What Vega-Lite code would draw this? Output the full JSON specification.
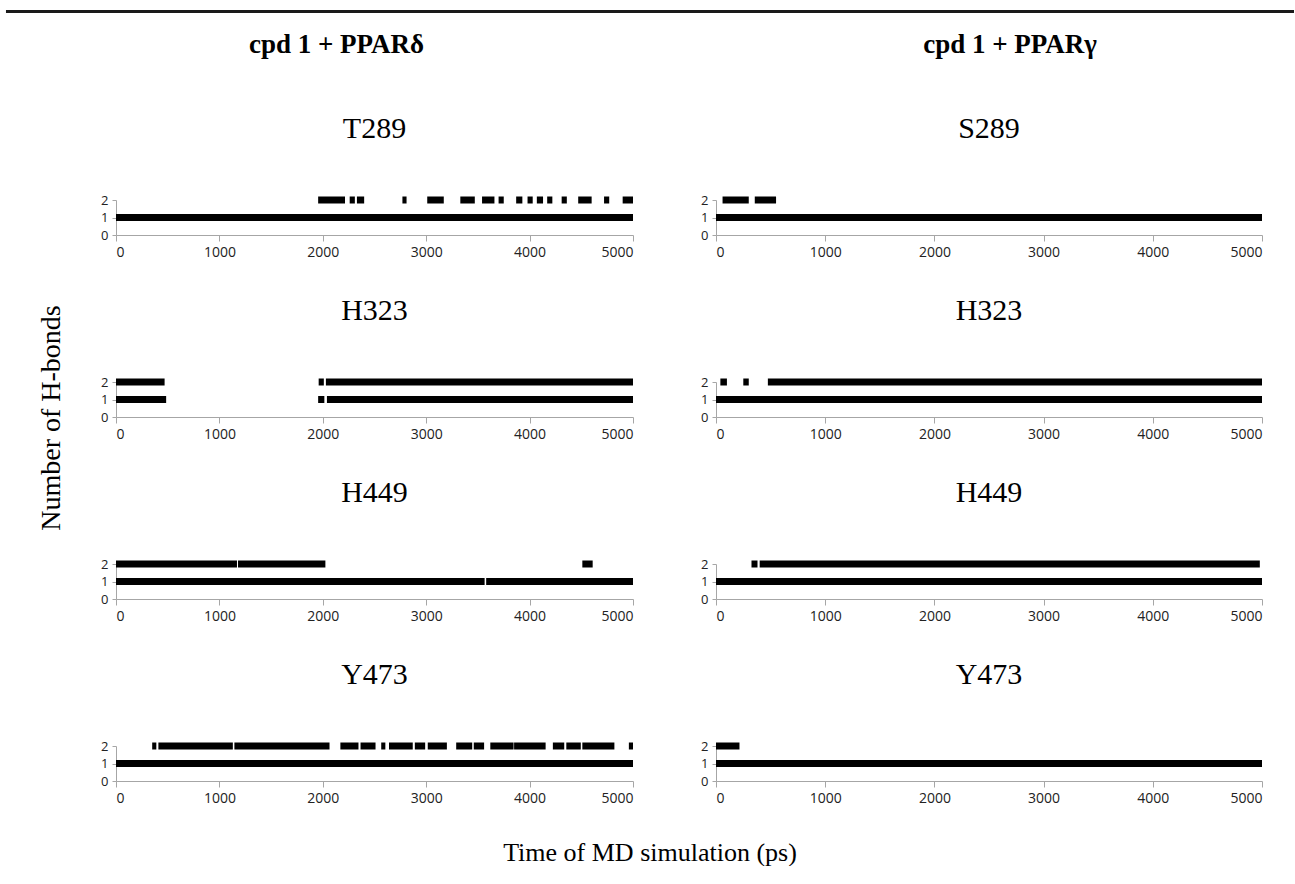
{
  "$schema": "https://vega.github.io/schema/vega-lite/v6.json",
  "padding": {"left": 5, "top": 10, "right": 0, "bottom": 0},
  "background": "white",
  "config": {
    "view": {"stroke": null},
    "title": {"font": "Liberation Serif", "fontSize": 30, "fontWeight": "normal", "color": "black", "anchor": "middle"},
    "axis": {"domainColor": "#a6a6a6", "tickColor": "#a6a6a6", "labelFont": "Open Sans", "labelFontSize": 14, "labelColor": "#222222", "grid": false, "title": null, "format": "d"}
  },
  "datasets": {
    "hb": [
      {"p": "dT289", "h": 1, "s": 0, "e": 5000},
      {"p": "dT289", "h": 2, "s": 1955, "e": 2215},
      {"p": "dT289", "h": 2, "s": 2260, "e": 2310},
      {"p": "dT289", "h": 2, "s": 2330, "e": 2400},
      {"p": "dT289", "h": 2, "s": 2770, "e": 2810},
      {"p": "dT289", "h": 2, "s": 3010, "e": 3170},
      {"p": "dT289", "h": 2, "s": 3330, "e": 3470},
      {"p": "dT289", "h": 2, "s": 3540, "e": 3660},
      {"p": "dT289", "h": 2, "s": 3700, "e": 3750},
      {"p": "dT289", "h": 2, "s": 3870, "e": 3930},
      {"p": "dT289", "h": 2, "s": 3980, "e": 4030},
      {"p": "dT289", "h": 2, "s": 4070, "e": 4130},
      {"p": "dT289", "h": 2, "s": 4170, "e": 4220},
      {"p": "dT289", "h": 2, "s": 4310, "e": 4360},
      {"p": "dT289", "h": 2, "s": 4470, "e": 4600},
      {"p": "dT289", "h": 2, "s": 4720, "e": 4770},
      {"p": "dT289", "h": 2, "s": 4900, "e": 5000},
      {"p": "gS289", "h": 1, "s": 0, "e": 5000},
      {"p": "gS289", "h": 2, "s": 60, "e": 300},
      {"p": "gS289", "h": 2, "s": 355, "e": 550},
      {"p": "dH323", "h": 1, "s": 0, "e": 485},
      {"p": "dH323", "h": 1, "s": 1955, "e": 2015},
      {"p": "dH323", "h": 1, "s": 2040, "e": 5000},
      {"p": "dH323", "h": 2, "s": 0, "e": 470},
      {"p": "dH323", "h": 2, "s": 1960, "e": 2010},
      {"p": "dH323", "h": 2, "s": 2030, "e": 5000},
      {"p": "gH323", "h": 1, "s": 0, "e": 5000},
      {"p": "gH323", "h": 2, "s": 40, "e": 100},
      {"p": "gH323", "h": 2, "s": 250, "e": 300},
      {"p": "gH323", "h": 2, "s": 475, "e": 5000},
      {"p": "dH449", "h": 1, "s": 0, "e": 3565},
      {"p": "dH449", "h": 1, "s": 3580, "e": 5000},
      {"p": "dH449", "h": 2, "s": 0, "e": 1170},
      {"p": "dH449", "h": 2, "s": 1180, "e": 2025},
      {"p": "dH449", "h": 2, "s": 4510, "e": 4610},
      {"p": "gH449", "h": 1, "s": 0, "e": 5000},
      {"p": "gH449", "h": 2, "s": 325, "e": 380},
      {"p": "gH449", "h": 2, "s": 400, "e": 4980},
      {"p": "dY473", "h": 1, "s": 0, "e": 5000},
      {"p": "dY473", "h": 2, "s": 350, "e": 390},
      {"p": "dY473", "h": 2, "s": 410, "e": 1130},
      {"p": "dY473", "h": 2, "s": 1145, "e": 2065},
      {"p": "dY473", "h": 2, "s": 2170, "e": 2345},
      {"p": "dY473", "h": 2, "s": 2365, "e": 2510},
      {"p": "dY473", "h": 2, "s": 2565, "e": 2605},
      {"p": "dY473", "h": 2, "s": 2640, "e": 2870},
      {"p": "dY473", "h": 2, "s": 2890, "e": 2990},
      {"p": "dY473", "h": 2, "s": 3015, "e": 3200},
      {"p": "dY473", "h": 2, "s": 3290, "e": 3445},
      {"p": "dY473", "h": 2, "s": 3460, "e": 3560},
      {"p": "dY473", "h": 2, "s": 3620, "e": 3845},
      {"p": "dY473", "h": 2, "s": 3850, "e": 4155},
      {"p": "dY473", "h": 2, "s": 4225, "e": 4335},
      {"p": "dY473", "h": 2, "s": 4355, "e": 4495},
      {"p": "dY473", "h": 2, "s": 4510, "e": 4820},
      {"p": "dY473", "h": 2, "s": 4960, "e": 5000},
      {"p": "gY473", "h": 1, "s": 0, "e": 5000},
      {"p": "gY473", "h": 2, "s": 0, "e": 215}
    ]
  },
  "title": {"text": "Time of MD simulation (ps)", "orient": "bottom", "fontSize": 26, "offset": 35},
  "spacing": 18,
  "vconcat": [
    {
      "width": 1178, "height": 3,
      "data": {"values": [{"a": -0.0934, "b": 1}]},
      "mark": {"type": "rect", "color": "#1a1a1a", "clip": false},
      "encoding": {
        "x": {"field": "a", "type": "quantitative", "scale": {"domain": [0, 1], "clamp": false, "zero": false}, "axis": null},
        "x2": {"field": "b"}
      }
    },
    {
      "title": {"text": ["", "Number of H-bonds\u00a0\u00a0\u00a0"], "orient": "left", "fontSize": 28, "lineHeight": 30, "offset": 35},
      "spacing": 63,
      "hconcat": [
        {
          "title": {"text": "cpd 1 + PPARδ", "fontWeight": "bold", "fontSize": 27, "dx": -32, "offset": 55},
          "spacing": 37,
          "vconcat": [
            {"width": 517, "height": 35, "data": {"name": "hb"}, "transform": [{"filter": "datum.p === 'dT289'"}],
             "title": {"text": "T289", "offset": 50},
             "mark": {"type": "rule", "strokeWidth": 7, "strokeCap": "butt", "color": "black"},
             "encoding": {
               "x": {"field": "s", "type": "quantitative", "scale": {"domain": [0, 5000], "nice": false}, "axis": {"values": [0, 1000, 2000, 3000, 4000, 5000], "tickSize": 6, "labelPadding": 4}},
               "x2": {"field": "e"},
               "y": {"field": "h", "type": "quantitative", "scale": {"domain": [0, 2]}, "axis": {"values": [0, 1, 2], "tickSize": 4, "labelPadding": 4, "labelFontSize": 13}}
             }},
            {"width": 517, "height": 35, "data": {"name": "hb"}, "transform": [{"filter": "datum.p === 'dH323'"}],
             "title": {"text": "H323", "offset": 50},
             "mark": {"type": "rule", "strokeWidth": 7, "strokeCap": "butt", "color": "black"},
             "encoding": {
               "x": {"field": "s", "type": "quantitative", "scale": {"domain": [0, 5000], "nice": false}, "axis": {"values": [0, 1000, 2000, 3000, 4000, 5000], "tickSize": 6, "labelPadding": 4}},
               "x2": {"field": "e"},
               "y": {"field": "h", "type": "quantitative", "scale": {"domain": [0, 2]}, "axis": {"values": [0, 1, 2], "tickSize": 4, "labelPadding": 4, "labelFontSize": 13}}
             }},
            {"width": 517, "height": 35, "data": {"name": "hb"}, "transform": [{"filter": "datum.p === 'dH449'"}],
             "title": {"text": "H449", "offset": 50},
             "mark": {"type": "rule", "strokeWidth": 7, "strokeCap": "butt", "color": "black"},
             "encoding": {
               "x": {"field": "s", "type": "quantitative", "scale": {"domain": [0, 5000], "nice": false}, "axis": {"values": [0, 1000, 2000, 3000, 4000, 5000], "tickSize": 6, "labelPadding": 4}},
               "x2": {"field": "e"},
               "y": {"field": "h", "type": "quantitative", "scale": {"domain": [0, 2]}, "axis": {"values": [0, 1, 2], "tickSize": 4, "labelPadding": 4, "labelFontSize": 13}}
             }},
            {"width": 517, "height": 35, "data": {"name": "hb"}, "transform": [{"filter": "datum.p === 'dY473'"}],
             "title": {"text": "Y473", "offset": 50},
             "mark": {"type": "rule", "strokeWidth": 7, "strokeCap": "butt", "color": "black"},
             "encoding": {
               "x": {"field": "s", "type": "quantitative", "scale": {"domain": [0, 5000], "nice": false}, "axis": {"values": [0, 1000, 2000, 3000, 4000, 5000], "tickSize": 6, "labelPadding": 4}},
               "x2": {"field": "e"},
               "y": {"field": "h", "type": "quantitative", "scale": {"domain": [0, 2]}, "axis": {"values": [0, 1, 2], "tickSize": 4, "labelPadding": 4, "labelFontSize": 13}}
             }}
          ]
        },
        {
          "title": {"text": "cpd 1 + PPARγ", "fontWeight": "bold", "fontSize": 27, "dx": 27, "offset": 55},
          "spacing": 37,
          "vconcat": [
            {"width": 546, "height": 35, "data": {"name": "hb"}, "transform": [{"filter": "datum.p === 'gS289'"}],
             "title": {"text": "S289", "offset": 50},
             "mark": {"type": "rule", "strokeWidth": 7, "strokeCap": "butt", "color": "black"},
             "encoding": {
               "x": {"field": "s", "type": "quantitative", "scale": {"domain": [0, 5000], "nice": false}, "axis": {"values": [0, 1000, 2000, 3000, 4000, 5000], "tickSize": 6, "labelPadding": 4}},
               "x2": {"field": "e"},
               "y": {"field": "h", "type": "quantitative", "scale": {"domain": [0, 2]}, "axis": {"values": [0, 1, 2], "tickSize": 4, "labelPadding": 4, "labelFontSize": 13}}
             }},
            {"width": 546, "height": 35, "data": {"name": "hb"}, "transform": [{"filter": "datum.p === 'gH323'"}],
             "title": {"text": "H323", "offset": 50},
             "mark": {"type": "rule", "strokeWidth": 7, "strokeCap": "butt", "color": "black"},
             "encoding": {
               "x": {"field": "s", "type": "quantitative", "scale": {"domain": [0, 5000], "nice": false}, "axis": {"values": [0, 1000, 2000, 3000, 4000, 5000], "tickSize": 6, "labelPadding": 4}},
               "x2": {"field": "e"},
               "y": {"field": "h", "type": "quantitative", "scale": {"domain": [0, 2]}, "axis": {"values": [0, 1, 2], "tickSize": 4, "labelPadding": 4, "labelFontSize": 13}}
             }},
            {"width": 546, "height": 35, "data": {"name": "hb"}, "transform": [{"filter": "datum.p === 'gH449'"}],
             "title": {"text": "H449", "offset": 50},
             "mark": {"type": "rule", "strokeWidth": 7, "strokeCap": "butt", "color": "black"},
             "encoding": {
               "x": {"field": "s", "type": "quantitative", "scale": {"domain": [0, 5000], "nice": false}, "axis": {"values": [0, 1000, 2000, 3000, 4000, 5000], "tickSize": 6, "labelPadding": 4}},
               "x2": {"field": "e"},
               "y": {"field": "h", "type": "quantitative", "scale": {"domain": [0, 2]}, "axis": {"values": [0, 1, 2], "tickSize": 4, "labelPadding": 4, "labelFontSize": 13}}
             }},
            {"width": 546, "height": 35, "data": {"name": "hb"}, "transform": [{"filter": "datum.p === 'gY473'"}],
             "title": {"text": "Y473", "offset": 50},
             "mark": {"type": "rule", "strokeWidth": 7, "strokeCap": "butt", "color": "black"},
             "encoding": {
               "x": {"field": "s", "type": "quantitative", "scale": {"domain": [0, 5000], "nice": false}, "axis": {"values": [0, 1000, 2000, 3000, 4000, 5000], "tickSize": 6, "labelPadding": 4}},
               "x2": {"field": "e"},
               "y": {"field": "h", "type": "quantitative", "scale": {"domain": [0, 2]}, "axis": {"values": [0, 1, 2], "tickSize": 4, "labelPadding": 4, "labelFontSize": 13}}
             }}
          ]
        }
      ]
    }
  ]
}
